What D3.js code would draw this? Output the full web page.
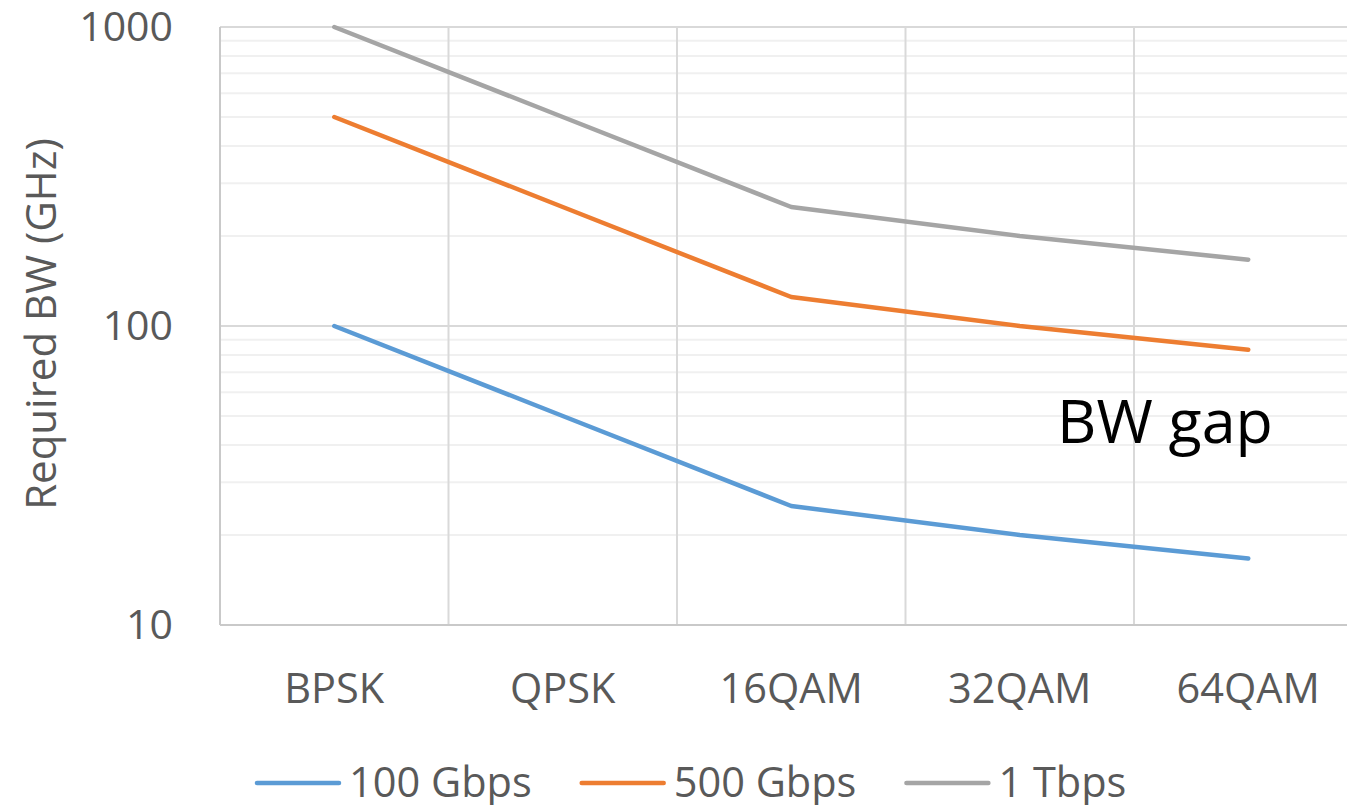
<!DOCTYPE html>
<html>
<head>
<meta charset="utf-8">
<script src="https://cdn.jsdelivr.net/npm/d3@7"></script>
<style>
  html, body { margin: 0; padding: 0; background: #fff; }
  svg { display: block; font-family: 'Open Sans', sans-serif; }
</style>
</head>
<body>
<div id="chart"></div>
<script>
// data
var categories = ['BPSK', 'QPSK', '16QAM', '32QAM', '64QAM'];
var seriesNames = ['100 Gbps', '500 Gbps', '1 Tbps'];
var bw100G = [100, 50, 25, 20, 16.7];
var bw500G = [500, 250, 125, 100, 83.3];
var bw1T = [1000, 500, 250, 200, 166.7];
var yTickValues = [10, 100, 1000];
var colors = ['#5b9bd5', '#ed7d31', '#a5a5a5'];

var svgWidth = 1347;
var svgHeight = 805;

var margin = { top: 27, left: 220, bottom: 180 };
var chartWidth = 228.5 * categories.length;   // runs off the right edge like the original
var chartHeight = svgHeight - margin.top - margin.bottom;

var svg = d3.select('#chart')
  .append('svg')
  .attr('width', svgWidth)
  .attr('height', svgHeight);

var chartGroup = svg.append('g')
  .attr('transform', `translate(${margin.left}, ${margin.top})`);

var xScale = d3.scaleBand()
  .domain(categories)
  .range([0, chartWidth])
  .padding(0);

var yScale = d3.scaleLog()
  .domain([10, 1000])
  .range([chartHeight, 0]);

// minor gridlines (2..9 of each decade)
var minorTicks = yScale.ticks().filter(d => yTickValues.indexOf(d) < 0);
chartGroup.append('g')
  .selectAll('line')
  .data(minorTicks)
  .enter()
  .append('line')
  .attr('x1', 0)
  .attr('x2', chartWidth)
  .attr('y1', d => yScale(d))
  .attr('y2', d => yScale(d))
  .attr('stroke', '#f0f0f0')
  .attr('stroke-width', 2);

// major gridlines
chartGroup.append('g')
  .selectAll('line')
  .data(yTickValues)
  .enter()
  .append('line')
  .attr('x1', 0)
  .attr('x2', chartWidth)
  .attr('y1', d => yScale(d))
  .attr('y2', d => yScale(d))
  .attr('stroke', '#d9d9d9')
  .attr('stroke-width', 2);

// vertical gridlines between categories
chartGroup.append('g')
  .selectAll('line')
  .data(categories.slice(1))
  .enter()
  .append('line')
  .attr('x1', d => xScale(d))
  .attr('x2', d => xScale(d))
  .attr('y1', 0)
  .attr('y2', chartHeight)
  .attr('stroke', '#d9d9d9')
  .attr('stroke-width', 2);

// axis lines
chartGroup.append('line')
  .attr('x1', 0).attr('x2', 0)
  .attr('y1', 0).attr('y2', chartHeight)
  .attr('stroke', '#c9c9c9')
  .attr('stroke-width', 2);
chartGroup.append('line')
  .attr('x1', 0).attr('x2', chartWidth)
  .attr('y1', chartHeight).attr('y2', chartHeight)
  .attr('stroke', '#c9c9c9')
  .attr('stroke-width', 2);

// y axis labels
var leftAxis = d3.axisLeft(yScale)
  .tickValues(yTickValues)
  .tickFormat(d3.format('d'))
  .tickSize(0)
  .tickPadding(47);
var yAxis = chartGroup.append('g').call(leftAxis);
yAxis.select('.domain').remove();
yAxis.selectAll('text')
  .attr('font-family', "'Open Sans', sans-serif")
  .attr('font-size', '41px')
  .attr('fill', '#595959');

// x axis labels
var bottomAxis = d3.axisBottom(xScale)
  .tickSize(0)
  .tickPadding(49);
var xAxis = chartGroup.append('g')
  .attr('transform', `translate(0, ${chartHeight})`)
  .call(bottomAxis);
xAxis.select('.domain').remove();
xAxis.selectAll('text')
  .attr('font-family', "'Open Sans', sans-serif")
  .attr('font-size', '41.5px')
  .attr('fill', '#595959');

// y axis title
chartGroup.append('text')
  .attr('transform', 'rotate(-90)')
  .attr('x', 0 - (324 - margin.top))
  .attr('y', 0 - margin.left + 56)
  .attr('text-anchor', 'middle')
  .attr('font-size', '42px')
  .attr('fill', '#595959')
  .text('Required BW (GHz)');

// lines
var allSeries = [bw100G, bw500G, bw1T];
var line = d3.line()
  .x((d, i) => xScale(categories[i]) + xScale.bandwidth() / 2)
  .y(d => yScale(d));

chartGroup.selectAll('.series')
  .data(allSeries)
  .enter()
  .append('path')
  .attr('class', 'series')
  .attr('d', d => line(d))
  .attr('fill', 'none')
  .attr('stroke', (d, i) => colors[i])
  .attr('stroke-width', 4.5)
  .attr('stroke-linecap', 'round')
  .attr('stroke-linejoin', 'round');

// annotation
svg.append('text')
  .attr('x', 1057)
  .attr('y', 443)
  .attr('font-size', '61px')
  .attr('fill', '#000')
  .text('BW gap');

// legend
var legend = svg.append('g');
var legendX = 257;
seriesNames.forEach(function(name, i) {
  legend.append('line')
    .attr('x1', legendX)
    .attr('x2', legendX + 82)
    .attr('y1', 783)
    .attr('y2', 783)
    .attr('stroke', colors[i])
    .attr('stroke-width', 4.5)
    .attr('stroke-linecap', 'round');
  var t = legend.append('text')
    .attr('x', legendX + 92)
    .attr('y', 797)
    .attr('font-size', '41.5px')
    .attr('fill', '#595959')
    .text(name);
  legendX = legendX + 92 + t.node().getComputedTextLength() + 50;
});
</script>
</body>
</html>
